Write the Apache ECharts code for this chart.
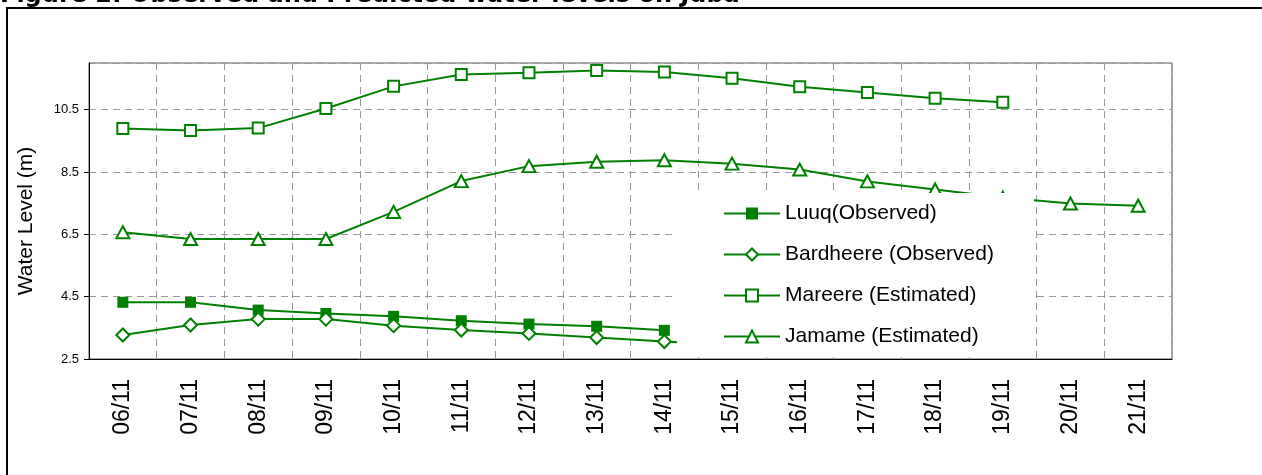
<!DOCTYPE html>
<html>
<head>
<meta charset="utf-8">
<script src="https://cdn.jsdelivr.net/npm/echarts@6/dist/echarts.min.js"></script>
<style>
  html, body { margin: 0; padding: 0; background: #fff; }
  #chart { width: 1262px; height: 475px; }
</style>
</head>
<body>
<div id="chart"></div>
<script>
// data
let days = ['06/11','07/11','08/11','09/11','10/11','11/11','12/11','13/11','14/11','15/11','16/11','17/11','18/11','19/11','20/11','21/11'];
let luuq = [4.32,4.32,4.07,3.96,3.87,3.73,3.62,3.55,3.42,null,null,null,null,null,null,null];
let bardheere = [3.27,3.59,3.78,3.78,3.57,3.43,3.32,3.19,3.06,2.95,null,null,null,null,null,null];
let mareere = [9.90,9.83,9.91,10.54,11.25,11.63,11.69,11.76,11.71,11.51,11.24,11.05,10.87,10.74,null,null];
let jamame = [6.57,6.35,6.35,6.35,7.22,8.21,8.69,8.83,8.88,8.77,8.58,8.20,7.94,7.68,7.49,7.42];
let names = ['Luuq(Observed)','Bardheere (Observed)','Mareere (Estimated)','Jamame (Estimated)'];

let green = '#008000';
let font = 'Liberation Sans, Arial, sans-serif';

function makeSeries(name, data, symbol, size, fill){
    return {
        name: name,
        type: 'line',
        data: data,
        symbol: symbol,
        symbolSize: size,
        showAllSymbol: true,
        connectNulls: false,
        lineStyle: { color: green, width: 2 },
        itemStyle: { color: fill, borderColor: green, borderWidth: fill == green ? 0 : 2 },
        emphasis: { disabled: true }
    };
}

var myChart = echarts.init(document.getElementById('chart'), null, { renderer: 'canvas' });
let option = {
    animation: false,
    backgroundColor: '#fff',
    title: {
        text: 'Figure 2: Observed and Predicted water levels on Juba',
        left: 0,
        top: -16,
        padding: 0,
        textStyle: { fontFamily: 'DejaVu Sans', fontWeight: 'bold', fontSize: 24, color: '#000' }
    },
    graphic: [{
        type: 'rect',
        shape: { x: 7, y: 8, width: 1300, height: 500 },
        style: { fill: 'none', stroke: '#000', lineWidth: 2 },
        z: -1
    }],
    legend: {
        data: names,
        orient: 'vertical',
        left: 677,
        top: 193,
        padding: [10, 40, 10, 46],
        itemWidth: 56,
        itemHeight: 15,
        itemGap: 20,
        selectedMode: false,
        backgroundColor: '#fff',
        textStyle: { fontFamily: font, fontSize: 21, color: '#000' }
    },
    grid: {
        left: 89,
        right: 90,
        top: 63,
        bottom: 116,
        show: true,
        borderColor: '#555',
        borderWidth: 1
    },
    xAxis: {
        type: 'category',
        data: days,
        boundaryGap: true,
        axisLine: { lineStyle: { color: '#000', width: 1 } },
        axisTick: { length: 10, lineStyle: { color: '#666' } },
        axisLabel: { rotate: 90, margin: 20, fontFamily: font, fontSize: 23, color: '#000', interval: 0 },
        splitLine: { show: true, interval: 0, lineStyle: { color: '#999', type: [7, 5], width: 1 } }
    },
    yAxis: {
        type: 'value',
        min: 2.5,
        max: 12,
        interval: 2,
        name: 'Water Level (m)',
        nameLocation: 'middle',
        nameGap: 52,
        nameTextStyle: { fontFamily: font, fontSize: 21, color: '#000', padding: [0, 20, 0, 0] },
        axisLine: { show: true, lineStyle: { color: '#000' } },
        axisTick: { show: true, length: 5, lineStyle: { color: '#000' } },
        axisLabel: { margin: 10, fontFamily: font, fontSize: 13, color: '#000', showMaxLabel: false,
            formatter: (v)=>v.toFixed(1) },
        splitLine: { show: true, lineStyle: { color: '#999', type: [7, 5], width: 1 } }
    },
    series: [
        makeSeries(names[0], luuq, 'rect', 11, green),
        makeSeries(names[1], bardheere, 'diamond', 13, '#fff'),
        makeSeries(names[2], mareere, 'rect', 11, '#fff'),
        makeSeries(names[3], jamame, 'triangle', [13, 12], '#fff')
    ]
};
myChart.setOption(option);
</script>
</body>
</html>
